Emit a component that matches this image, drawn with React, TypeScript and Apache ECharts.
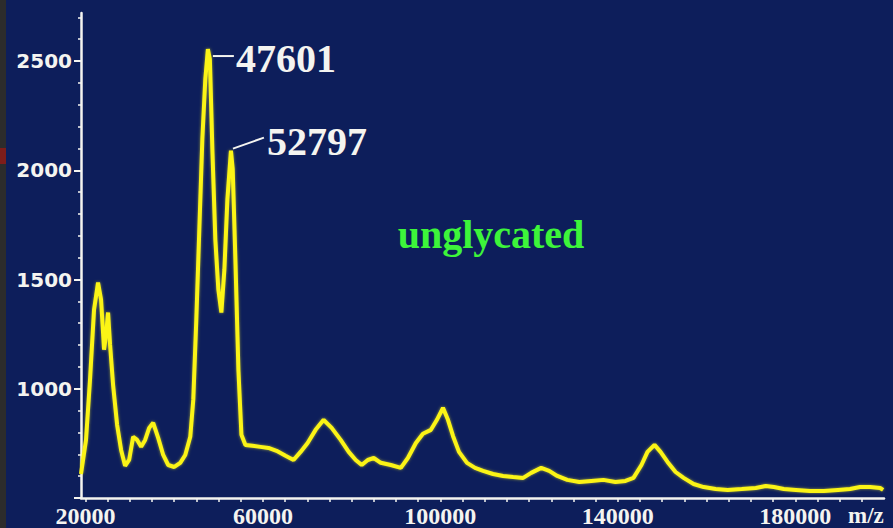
import React, { useEffect, useRef } from "react";
import * as echarts from "echarts";

// MALDI spectrum, m/z against intensity
const massValues = [
  19000, 20130, 21030, 21940, 22840, 23520, 24200, 24650, 25100, 25550,
  26230, 27140, 28040, 28940, 29850, 30750, 31660, 32560, 33460, 34370,
  35270, 36400, 37530, 38660, 40020, 41370, 42500, 43630, 44310, 44990,
  45670, 46350, 47020, 47601, 48050, 48610, 49280, 49960, 50640, 51320,
  52000, 52797, 53200, 53800, 54480, 55160, 56060, 57650, 59450, 61260,
  63070, 65100, 66910, 68490, 70080, 71880, 73690, 75500, 77530, 79340,
  80920, 82280, 83640, 84990, 86570, 88830, 91090, 92680, 94480, 96070,
  97870, 99230, 100590, 101720, 102850, 104200, 106010, 107820, 109630, 111890,
  114150, 116410, 118670, 120470, 122730, 124540, 126350, 128610, 131320, 134030,
  136750, 139460, 141720, 143530, 145330, 146690, 148270, 149630, 151210, 153020,
  154830, 157090, 159350, 162060, 164770, 167930, 171100, 173360, 175170, 177430,
  180140, 183300, 186470, 189630, 192340, 194600, 196860, 199120, 199800,
];

const intensityValues = [
  610, 766, 1041, 1362, 1486, 1408, 1179, 1248, 1349, 1202,
  1018, 835, 720, 647, 674, 780, 766, 734, 766, 821,
  844, 775, 697, 651, 642, 661, 697, 780, 950, 1316,
  1729, 2142, 2417, 2555, 2509, 2096, 1683, 1454, 1349, 1546,
  1867, 2090, 2005, 1592, 1087, 789, 743, 739, 734, 729,
  716, 693, 674, 711, 752, 812, 858, 821, 766, 711,
  674, 651, 674, 683, 661, 651, 638, 683, 752, 794,
  812, 858, 913, 858, 784, 711, 661, 638, 624, 610,
  601, 596, 592, 615, 638, 624, 601, 583, 573, 578,
  583, 573, 578, 592, 651, 711, 743, 711, 665, 619,
  592, 564, 550, 541, 537, 541, 546, 555, 550, 541,
  537, 532, 532, 537, 541, 550, 550, 546, 537,
];

const xLabelValues = [20000, 60000, 100000, 140000, 180000];
const yLabelValues = [1000, 1500, 2000, 2500];
const yMajorTicks = [500, 1000, 1500, 2000, 2500];
const peakMasses = [47601, 52797];

const X_MIN = 19000;
const X_MAX = 200000;
const Y_MIN = 500;
const Y_MAX = 2720;

const xMinorTicks: number[] = [];
for (let v = 20000; v <= 195000; v += 5000) xMinorTicks.push(v);
const yMinorTicks: number[] = [];
for (let v = 600; v <= 2700; v += 100) yMinorTicks.push(v);

const WHITE = "#f4f4f0";
const SERIF = "'Liberation Serif', 'DejaVu Serif', serif";

export default function App() {
  const ref = useRef<HTMLDivElement>(null);

  useEffect(() => {
    if (!ref.current) return;
    const chart = echarts.init(ref.current, undefined, { renderer: "svg" });
    const data = massValues.map((m, i) => [m, intensityValues[i]]);

    chart.setOption({
      animation: false,
      backgroundColor: "#0d1e5b",
      grid: { left: 81, right: 9, top: 13, bottom: 30, containLabel: false },
      xAxis: {
        type: "value",
        min: X_MIN,
        max: X_MAX,
        axisLine: { show: true, lineStyle: { color: WHITE, width: 2.5 } },
        axisTick: {
          show: true,
          customValues: xMinorTicks,
          length: 4,
          lineStyle: { color: WHITE, width: 1.5 },
        },
        axisLabel: {
          customValues: xLabelValues,
          color: WHITE,
          fontFamily: SERIF,
          fontWeight: "bold",
          fontSize: 24,
          margin: 6,
          formatter: (v: number) => String(v),
        },
        splitLine: { show: false },
      },
      yAxis: [
        {
          type: "value",
          min: Y_MIN,
          max: Y_MAX,
          axisLine: { show: true, lineStyle: { color: WHITE, width: 2.5 } },
          axisTick: {
            show: true,
            customValues: yMajorTicks,
            length: 7,
            lineStyle: { color: WHITE, width: 2 },
          },
          axisLabel: {
            customValues: yLabelValues,
            color: WHITE,
            fontFamily: "'DejaVu Sans', sans-serif",
            fontWeight: "bold",
            fontSize: 20,
            margin: 9,
            formatter: (v: number) => String(v),
          },
          splitLine: { show: false },
        },
        {
          type: "value",
          min: Y_MIN,
          max: Y_MAX,
          position: "left",
          axisLine: { show: false },
          axisTick: {
            show: true,
            customValues: yMinorTicks,
            length: 3,
            lineStyle: { color: WHITE, width: 1.5 },
          },
          axisLabel: { show: false },
          splitLine: { show: false },
        },
      ],
      series: [
        {
          type: "line",
          data,
          showSymbol: false,
          smooth: false,
          lineStyle: {
            color: "#fbf414",
            width: 4,
            shadowColor: "rgba(255, 250, 40, 0.55)",
            shadowBlur: 3,
          },
          z: 3,
        },
      ],
    });

    // peak annotations anchored on the spectrum's apex points
    const apex = peakMasses.map((m) => {
      const i = massValues.indexOf(m);
      return chart.convertToPixel({ gridIndex: 0 }, [m, intensityValues[i]]) as number[];
    });
    const [a1, a2] = apex;
    const peakText = {
      fill: WHITE,
      fontFamily: SERIF,
      fontWeight: "bold",
      fontSize: 40,
      textVerticalAlign: "middle",
    };

    chart.setOption({
      graphic: [
        { type: "rect", shape: { x: 0, y: 0, width: 6, height: 528 }, style: { fill: "#2c2c2c" } },
        { type: "rect", shape: { x: 0, y: 148, width: 6, height: 16 }, style: { fill: "#7d1d1a" } },
        {
          type: "line",
          shape: { x1: a1[0] + 5, y1: a1[1] + 7, x2: a1[0] + 26, y2: a1[1] + 7 },
          style: { stroke: WHITE, lineWidth: 2 },
        },
        {
          type: "text",
          x: a1[0] + 28,
          y: a1[1] + 9,
          style: { ...peakText, text: String(peakMasses[0]) },
        },
        {
          type: "line",
          shape: { x1: a2[0] + 2, y1: a2[1] - 2, x2: a2[0] + 33, y2: a2[1] - 13 },
          style: { stroke: WHITE, lineWidth: 2 },
        },
        {
          type: "text",
          x: a2[0] + 36,
          y: a2[1] - 9,
          style: { ...peakText, text: String(peakMasses[1]) },
        },
        {
          type: "text",
          x: 491,
          y: 234,
          style: {
            text: "unglycated",
            fill: "#3df53a",
            fontFamily: SERIF,
            fontWeight: "bold",
            fontSize: 40,
            textAlign: "center",
            textVerticalAlign: "middle",
          },
        },
        {
          type: "text",
          x: 848,
          y: 504,
          style: {
            text: "m/z",
            fill: WHITE,
            fontFamily: SERIF,
            fontWeight: "bold",
            fontSize: 23,
          },
        },
      ],
    });

    return () => chart.dispose();
  }, []);

  return (
    <div
      ref={ref}
      style={{ position: "absolute", left: 0, top: 0, width: 893, height: 528 }}
    />
  );
}
